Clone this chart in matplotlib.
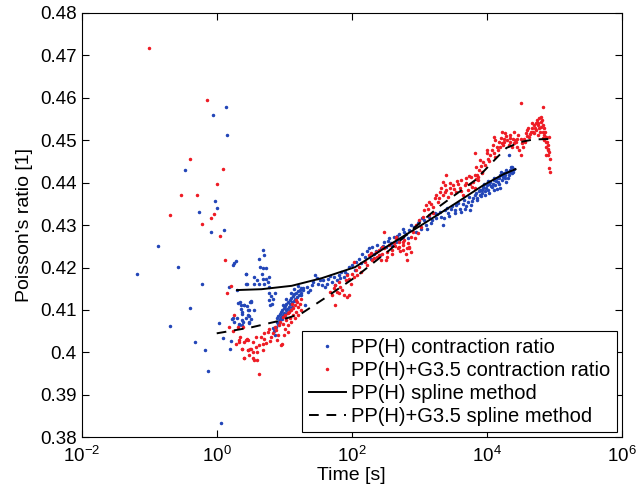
import matplotlib
matplotlib.use("Agg")
import matplotlib.pyplot as plt
from matplotlib.ticker import MultipleLocator, FuncFormatter, NullLocator

# PP(H) contraction ratio (blue dots): time [s], Poisson's ratio
blue_t = [
    1.37, 0.89, 1.44, 0.34, 0.95, 1.02, 0.54, 0.82, 1.29, 0.134, 0.27, 0.066,
    1.92, 1.83, 1.77, 2.67, 2.73, 0.61, 1.51, 1.98, 2.07, 2.24, 2.28, 2.52,
    2.80, 3.10, 3.17, 2.32, 2.86, 0.40, 2.40, 3.03, 3.17, 1.71, 1.09, 2.15,
    2.47, 3.00, 0.20, 1.22, 0.47, 1.63, 0.67, 1.57, 0.75, 1.16,
    4.8, 5.1, 4.2, 4.4, 4.8, 5.4, 4.7, 3.6, 4.0, 4.8, 5.4, 6.0, 4.3, 5.1, 5.7,
    6.0, 2.7, 2.8, 3.6,
    5.9, 6.4, 6.8, 6.0, 6.6, 7.2, 6.2,
    2.55, 3.2, 3.0, 2.4, 3.6, 2.0, 2.7, 3.0, 1.8, 2.4, 2.9, 2.4, 1.75, 2.15,
    7.5, 7.7, 7.8, 8.0, 8.2, 8.3, 8.6, 8.8, 9.0, 9.1, 9.4, 9.6, 9.8, 10.0,
    10.3, 10.5, 10.8, 11.0, 11.3, 11.6, 12.0, 12.3, 12.7, 13.0, 13.4, 13.8,
    14.2, 14.6, 15.0, 15.5, 16.0, 16.5, 17.0, 17.6, 18.0, 19.0, 8.5, 9.3,
    10.2, 11.1, 12.1, 13.2, 7.0, 7.2, 6.8, 10.6, 12.5, 14.0, 15.8, 9.5,
    18, 19.2, 20, 21.5, 22.8, 25.6, 28.7, 30.4, 32.2, 36, 38, 43, 45, 51, 54,
    60, 64, 70, 76, 79, 24, 27, 34, 40, 48, 57, 67, 85, 91, 101, 114, 128,
    143, 160, 180, 190, 202, 214, 240, 269, 301, 319, 358, 379, 425, 451, 506,
    535, 566,
    110, 135, 170, 230, 260, 290, 340, 400, 470, 600, 680, 760, 890, 1000,
    506, 566, 635, 713, 847, 950, 1065, 1196, 1265, 1420, 1503, 1686, 1783,
    2003, 2120, 2244, 2377, 2667, 2988, 3354, 3547, 3981, 4467, 4732, 5306,
    5945, 6310, 7063, 7943, 8400, 5610,
    1100, 1300, 1550, 1850, 2300, 2600, 2800, 3100, 3400, 3800, 4100, 4600,
    5000, 5500, 6000, 6600, 7300, 7700, 9200, 9500, 10300, 11500, 13000,
    14600, 16300, 17300, 19500, 20600, 23000, 24500,
    7060, 7940, 8900, 8400, 9990, 10600, 11200, 11900, 12700, 13400, 14200,
    15000, 15900, 16800, 17800, 18900, 20000, 21200, 22400, 23800, 25200,
    21200, 12700, 15900,
    8200, 8700, 9700, 10900, 12200, 13800, 15400, 16600, 18400, 19000, 21800,
    23400, 24000, 14000, 11000, 9400,
]
blue_v = [
    0.4578, 0.4559, 0.4512, 0.4431, 0.4358, 0.4340, 0.4331, 0.4283, 0.4288,
    0.4250, 0.4202, 0.4186, 0.4216, 0.4211, 0.4206, 0.4184, 0.4161, 0.4161,
    0.4154, 0.4147, 0.4117, 0.4118, 0.4111, 0.4111, 0.4110, 0.4119, 0.4121,
    0.4103, 0.4099, 0.4105, 0.4090, 0.4085, 0.4079, 0.4078, 0.4070, 0.4066,
    0.4071, 0.4069, 0.4063, 0.4034, 0.4024, 0.4027, 0.4006, 0.4007, 0.3956,
    0.3834,
    0.4241, 0.4229, 0.4220, 0.4202, 0.4198, 0.4198, 0.4186, 0.4178, 0.4170,
    0.4172, 0.4174, 0.4178, 0.4162, 0.4162, 0.4166, 0.4154, 0.4186, 0.4162,
    0.4162,
    0.4139, 0.4133, 0.4127, 0.4123, 0.4115, 0.4139, 0.4111,
    0.4111, 0.4119, 0.4100, 0.4096, 0.4100, 0.4080, 0.4080, 0.4072, 0.4072,
    0.4064, 0.4088, 0.4076, 0.4080, 0.4064,
    0.4060, 0.4072, 0.4080, 0.4066, 0.4085, 0.4075, 0.4090, 0.4079, 0.4095,
    0.4084, 0.4100, 0.4088, 0.4105, 0.4094, 0.4110, 0.4099, 0.4115, 0.4103,
    0.4120, 0.4108, 0.4124, 0.4113, 0.4129, 0.4118, 0.4133, 0.4122, 0.4137,
    0.4127, 0.4141, 0.4131, 0.4145, 0.4135, 0.4148, 0.4140, 0.4151, 0.4146,
    0.4068, 0.4078, 0.4086, 0.4092, 0.4101, 0.4108, 0.4050, 0.4042, 0.4057,
    0.4125, 0.4140, 0.4150, 0.4156, 0.4112,
    0.4135, 0.4151, 0.4111, 0.4155, 0.4143, 0.4158, 0.4182, 0.4176, 0.4162,
    0.4158, 0.4170, 0.4162, 0.4174, 0.4166, 0.4178, 0.4170, 0.4182, 0.4190,
    0.4178, 0.4190, 0.4148, 0.4165, 0.4170, 0.4155, 0.4180, 0.4160, 0.4175,
    0.4185, 0.4202, 0.4206, 0.4213, 0.4221, 0.4233, 0.4225, 0.4245, 0.4221,
    0.4249, 0.4233, 0.4253, 0.4245, 0.4261, 0.4249, 0.4269, 0.4257, 0.4272,
    0.4261, 0.4280, 0.4269, 0.4292,
    0.4195, 0.4210, 0.4240, 0.4240, 0.4230, 0.4252, 0.4262, 0.4250, 0.4275,
    0.4283, 0.4270, 0.4300, 0.4285, 0.4310,
    0.4265, 0.4272, 0.4280, 0.4288, 0.4296, 0.4304, 0.4292, 0.4312, 0.4300,
    0.4320, 0.4304, 0.4328, 0.4316, 0.4331, 0.4320, 0.4300, 0.4335, 0.4328,
    0.4339, 0.4335, 0.4347, 0.4339, 0.4351, 0.4339, 0.4355, 0.4347, 0.4363,
    0.4359, 0.4371, 0.4383, 0.4335,
    0.4318, 0.4290, 0.4312, 0.4326, 0.4318, 0.4341, 0.4322, 0.4345, 0.4328,
    0.4352, 0.4330, 0.4360, 0.4344, 0.4366, 0.4356, 0.4370, 0.4364, 0.4380,
    0.4396, 0.4380, 0.4404, 0.4392, 0.4412, 0.4402, 0.4426, 0.4414, 0.4430,
    0.4412, 0.4436, 0.4426,
    0.4375, 0.4383, 0.4387, 0.4375, 0.4394, 0.4383, 0.4402, 0.4390, 0.4406,
    0.4394, 0.4410, 0.4398, 0.4418, 0.4406, 0.4422, 0.4410, 0.4426, 0.4418,
    0.4430, 0.4422, 0.4432, 0.4465, 0.4383, 0.4387,
    0.4368, 0.4392, 0.4388, 0.4396, 0.4398, 0.4404, 0.4410, 0.4418, 0.4418,
    0.4402, 0.4426, 0.4428, 0.4438, 0.4385, 0.4375, 0.4370,
]

# PP(H)+G3.5 contraction ratio (red dots)
red_t = [
    0.1, 0.706, 0.40, 1.22, 1.02, 0.30, 0.506, 0.20, 0.92, 0.81, 0.61, 1.12,
    1.33, 1.63, 1.42, 1.83, 1.52, 2.05, 2.47, 1.75, 2.22, 2.12, 1.94, 2.67,
    2.80, 2.36, 2.90, 3.10, 2.58,
    2.15, 2.55, 2.9, 3.4, 3.8, 4.5, 5.1, 5.7, 6.0, 5.4, 4.8, 4.3, 3.8, 3.2,
    2.9, 2.4, 3.4, 4.0, 4.8, 3.0, 3.6, 3.9, 2.55, 4.3, 9.3, 6.8, 7.5, 6.4,
    8.4, 9.5, 10.6, 12.0, 13.5, 15.0, 16.0, 17.0, 8.0, 10.1, 11.4, 12.7, 14.3,
    16.0, 12.7, 11.4, 9.5, 14.3, 15, 18, 13.5, 3.4, 9.1,
    7.2, 8.8, 10.4, 11.8, 13.0, 15.5, 17.5, 7.9, 9.9, 11.2, 6.2, 5.0,
    54, 57, 60, 64, 68, 72, 76, 57, 81, 86, 91, 96, 101, 107, 114, 120, 128,
    135, 107, 91, 64, 51, 48, 86,
    160, 180, 202, 226, 240, 254, 284, 301, 338, 358, 402, 425, 478, 506, 566,
    301, 269, 319, 170, 658, 451, 566, 700, 749, 630, 451, 566, 673, 749, 506,
    713,
    195, 215, 250, 280, 330, 390, 440, 520, 600, 650,
    820, 900, 980, 1050, 1120, 860, 950,
    1196, 1265, 1420, 1340, 1590, 1686, 1783, 2003, 1890, 2120, 2244, 2377,
    2516, 2667, 2825, 2988, 3162, 3547, 3758, 3981, 4217, 4467, 4732, 5012,
    5306, 5610, 5945, 6310, 6700, 7063, 7480, 8400, 2516, 2244, 1420, 1590,
    1500, 1950, 2400, 2900, 3300, 3650, 4100, 4900, 5450, 6150, 6900, 7700,
    8100,
    6700, 7480, 8400, 9440, 8900, 10600, 11200, 9990, 11900, 13400, 14200,
    15000, 13400, 15900, 16800, 17800, 16800, 18900, 20000, 21200, 22400,
    23800, 25200, 26700, 28300, 30000, 31800, 33700, 35700, 37800, 40100,
    42500, 45000, 47600, 50400, 53400, 56600, 60000, 63500, 63500, 67300,
    71300, 71300, 75500, 80000, 75500, 84700, 80000, 75500, 84700, 88000,
    56600, 50400, 60000, 53400, 63500, 67300, 71300, 75500, 84700, 80000,
    31800, 67300, 25200, 22400, 28300, 12700, 7940, 7060, 6700,
    10200, 11000, 12300, 13000, 14800, 16200, 17200, 18300, 19500, 21800,
    24300, 27400, 29000, 32600, 34700, 36700, 39000, 41200, 43800, 46300,
    48900, 52000, 55000, 58300, 61700, 65400, 69300, 73400, 77700, 82300,
    86000,
]
red_v = [
    0.4718, 0.4594, 0.4455, 0.4432, 0.4396, 0.4370, 0.4371, 0.4323, 0.4326,
    0.4316, 0.4302, 0.4274, 0.4219, 0.4157, 0.4141, 0.4088, 0.4059, 0.4059,
    0.4059, 0.4050, 0.4036, 0.4024, 0.4021, 0.4029, 0.4032, 0.4007, 0.4005,
    0.4008, 0.3987,
    0.4029, 0.4025, 0.4030, 0.4025, 0.4037, 0.4037, 0.4045, 0.4048, 0.4056,
    0.4022, 0.4021, 0.4017, 0.4013, 0.4009, 0.4005, 0.4007, 0.4001, 0.4001,
    0.4005, 0.3993, 0.3983, 0.3983, 0.3986, 0.3949, 0.4019, 0.4045, 0.4052,
    0.4037, 0.4064, 0.4068, 0.4076, 0.4080, 0.4088, 0.4096, 0.4107, 0.4115,
    0.4041, 0.4056, 0.4064, 0.4072, 0.4080, 0.4088, 0.4100, 0.4092, 0.4084,
    0.4111, 0.4123, 0.4127, 0.4104, 0.3986, 0.4017,
    0.4060, 0.4072, 0.4088, 0.4096, 0.4115, 0.4119, 0.4100, 0.4030, 0.4040,
    0.4048, 0.4028, 0.4032,
    0.4151, 0.4158, 0.4143, 0.4166, 0.4155, 0.4147, 0.4135, 0.4111, 0.4170,
    0.4182, 0.4174, 0.4162, 0.4186, 0.4178, 0.4194, 0.4182, 0.4202, 0.4190,
    0.4213, 0.4135, 0.4139, 0.4135, 0.4143, 0.4131,
    0.4213, 0.4229, 0.4217, 0.4237, 0.4225, 0.4241, 0.4233, 0.4245, 0.4237,
    0.4253, 0.4241, 0.4257, 0.4245, 0.4261, 0.4253, 0.4284, 0.4217, 0.4217,
    0.4206, 0.4217, 0.4272, 0.4241, 0.4249, 0.4237, 0.4233, 0.4269, 0.4261,
    0.4257, 0.4272, 0.4249, 0.4245,
    0.4235, 0.4222, 0.4230, 0.4248, 0.4225, 0.4232, 0.4250, 0.4238, 0.4265,
    0.4245,
    0.4285, 0.4300, 0.4312, 0.4296, 0.4320, 0.4270, 0.4281,
    0.4335, 0.4347, 0.4355, 0.4339, 0.4343, 0.4363, 0.4371, 0.4379, 0.4355,
    0.4387, 0.4371, 0.4394, 0.4383, 0.4367, 0.4387, 0.4375, 0.4394, 0.4379,
    0.4398, 0.4387, 0.4406, 0.4371, 0.4394, 0.4410, 0.4383, 0.4398, 0.4414,
    0.4402, 0.4387, 0.4418, 0.4406, 0.4422, 0.4418, 0.4402, 0.4324, 0.4328,
    0.4350, 0.4365, 0.4378, 0.4400, 0.4385, 0.4405, 0.4380, 0.4400, 0.4415,
    0.4390, 0.4408, 0.4430, 0.4440,
    0.4418, 0.4414, 0.4426, 0.4442, 0.4449, 0.4457, 0.4465, 0.4477, 0.4477,
    0.4461, 0.4485, 0.4497, 0.4500, 0.4485, 0.4493, 0.4504, 0.4520, 0.4516,
    0.4500, 0.4489, 0.4497, 0.4485, 0.4493, 0.4500, 0.4485, 0.4477, 0.4465,
    0.4493, 0.4504, 0.4516, 0.4524, 0.4508, 0.4520, 0.4528, 0.4536, 0.4524,
    0.4540, 0.4552, 0.4555, 0.4532, 0.4520, 0.4512, 0.4500, 0.4497, 0.4489,
    0.4485, 0.4473, 0.4465, 0.4465, 0.4434, 0.4426,
    0.4512, 0.4516, 0.4528, 0.4540, 0.4544, 0.4536, 0.4528, 0.4508, 0.4508,
    0.4477, 0.4589, 0.4579, 0.4520, 0.4512, 0.4504, 0.4508, 0.4453, 0.4437,
    0.4469,
    0.4470, 0.4450, 0.4490, 0.4470, 0.4478, 0.4505, 0.4490, 0.4497, 0.4510,
    0.4505, 0.4502, 0.4495, 0.4512, 0.4502, 0.4485, 0.4497, 0.4510, 0.4530,
    0.4515, 0.4540, 0.4520, 0.4530, 0.4548, 0.4535, 0.4520, 0.4548, 0.4505,
    0.4520, 0.4495, 0.4480, 0.4455,
]

# spline fits
spline_t = [2.0, 4.6, 12.9, 36, 112, 402, 1130, 3510, 8900, 17700, 26700]
spline_v = [0.4147, 0.4149, 0.4157, 0.4175, 0.4201, 0.4258, 0.4302, 0.4352,
            0.4394, 0.4420, 0.4432]
spline_g_t = [1.0, 3.24, 8.2, 18.1, 40, 112, 362, 805, 2020, 6760, 13900,
              19600, 31800, 49700, 83400]
spline_g_v = [0.4045, 0.4059, 0.4074, 0.4092, 0.4128, 0.4177, 0.4241, 0.4291,
              0.4345, 0.4406, 0.4458, 0.4482, 0.4496, 0.4502, 0.4503]

x_ticks = [1e-2, 1e0, 1e2, 1e4, 1e6]

plt.rcParams["font.family"] = ["Liberation Sans", "DejaVu Sans"]
plt.rcParams["mathtext.fontset"] = "custom"
plt.rcParams["mathtext.rm"] = "Liberation Sans"
plt.rcParams["mathtext.it"] = "Liberation Sans"

fig = plt.figure(figsize=(6.36, 4.94), dpi=100)
ax = fig.add_axes([0.1285, 0.1148, 0.849, 0.8589])

ax.plot(blue_t, blue_v, ".", color="#2346b8", markersize=3,
        label="PP(H) contraction ratio")
ax.plot(red_t, red_v, ".", color="#ee1c25", markersize=3,
        label="PP(H)+G3.5 contraction ratio")
ax.plot(spline_t, spline_v, "-", color="black", lw=1.4,
        label="PP(H) spline method")
ax.plot(spline_g_t, spline_g_v, "--", color="black", lw=1.4, dashes=(5, 4),
        label="PP(H)+G3.5 spline method")

ax.set_xscale("log")
ax.set_xlim(1e-2, 1e6)
ax.set_ylim(0.38, 0.48)
ax.set_xticks(x_ticks)
ax.xaxis.set_minor_locator(NullLocator())
ax.yaxis.set_major_locator(MultipleLocator(0.01))
ax.yaxis.set_major_formatter(FuncFormatter(lambda v, p: f"{v:g}"))
ax.tick_params(direction="in", top=True, right=True, length=5, width=0.8,
               labelsize=13.5)
ax.tick_params(axis="x", pad=6)

ax.set_xlabel("Time [s]", fontsize=14, labelpad=1)
ax.set_ylabel("Poisson's ratio [1]", fontsize=14, labelpad=5)

leg = ax.legend(loc="lower right", fontsize=14.5, fancybox=False,
                edgecolor="black", framealpha=1, borderaxespad=0.25,
                handlelength=1.85, handletextpad=0.25, borderpad=0.32,
                labelspacing=0.2, markerscale=1.0)
leg.get_frame().set_linewidth(0.8)

fig.savefig("out.png", dpi=100)
